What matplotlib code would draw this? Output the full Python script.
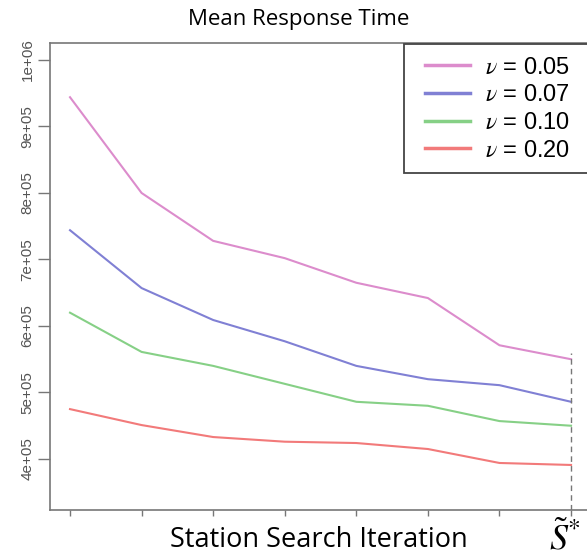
import numpy as np
import matplotlib
matplotlib.use("Agg")
import matplotlib.pyplot as plt
from matplotlib.patches import Rectangle

################ Data ###########

iterations = [1, 2, 3, 4, 5, 6, 7, 8]
v005 = [944000, 800000, 728000, 702000, 665000, 642000, 571000, 550000]
v007 = [744000, 657000, 609000, 577000, 540000, 520000, 511000, 486000]
v010 = [620000, 561000, 540000, 513000, 486000, 480000, 457000, 450000]
v020 = [475000, 451000, 433000, 426000, 424000, 415000, 394000, 391000]
labels = ['0.05', '0.07', '0.10', '0.20']
colors = ['#dc8ccc', '#8080d4', '#86d086', '#f27a7a']
yticks = [400000, 500000, 600000, 700000, 800000, 900000, 1000000]
yticklabels = ['4e+05', '5e+05', '6e+05', '7e+05', '8e+05', '9e+05', '1e+06']

plt.rcParams['mathtext.fontset'] = 'stix'

################ Plot ######################

fig = plt.figure(figsize=(5.87, 5.6), dpi=100)
ax = fig.add_axes([0.0852, 0.0893, 0.937, 0.834])

for vals, lab, col in zip([v005, v007, v010, v020], labels, colors):
    ax.plot(iterations, vals, color=col, lw=1.5, label=r'$\nu$ = ' + lab)

ax.set_xlim(0.7206, 8.405)
ax.set_ylim(323300, 1025600)

# dashed marker at the final station set
ax.vlines(iterations[-1], ax.get_ylim()[0], v005[-1] + 10000,
          colors='#777777', linestyles=(0, (4, 3)), lw=1)

ax.set_xticks(iterations)
ax.set_xticklabels([])
ax.set_yticks(yticks)
ax.set_yticklabels(yticklabels, rotation=90, va='center', color='#555555',
                   fontsize=11, family='Liberation Sans')
ax.tick_params(axis='y', length=9, width=1, color='#777777', pad=2)
ax.tick_params(axis='x', length=4, width=1, color='#777777')
for s in ax.spines.values():
    s.set_color('#777777')
    s.set_linewidth(1.2)

fig.text(0.508, 0.966, 'Mean Response Time', fontsize=16, family='Open Sans',
         ha='center', va='center')
fig.text(0.543, 0.036, 'Station Search Iteration', fontsize=19.5,
         family='Open Sans', ha='center', va='center')
fig.text(0.963, 0.038, r'$\tilde{S}^{*}$', fontsize=26, ha='center', va='center')

# legend box runs off the right edge, as in the source figure
ax.add_patch(Rectangle((404 / 587, 1 - 173 / 560), 200 / 587, 129 / 560,
                       transform=fig.transFigure, facecolor='white',
                       edgecolor='#444444', lw=1.3, zorder=4, clip_on=False))
leg = ax.legend(loc='upper left', bbox_to_anchor=(420 / 587, 1 - 52 / 560),
                bbox_transform=fig.transFigure, frameon=False,
                prop={'family': 'Liberation Sans', 'size': 17},
                handlelength=1.9, labelspacing=0.24, borderpad=0.2,
                handletextpad=0.65, borderaxespad=0)
leg.set_zorder(5)
for h in leg.get_lines():
    h.set_linewidth(2.5)

fig.savefig('out.png', dpi=100)
